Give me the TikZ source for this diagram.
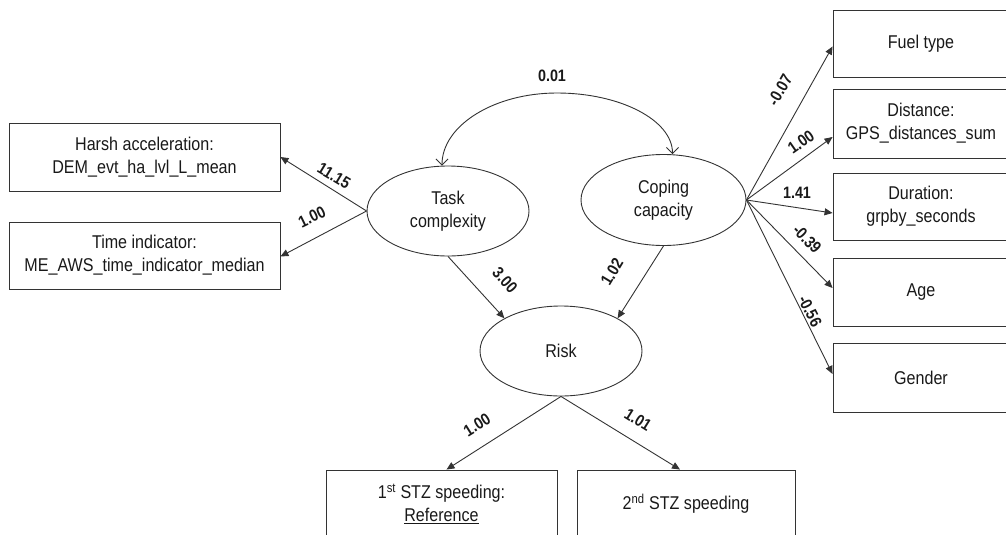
\documentclass[tikz,border=0pt]{standalone}
\usepackage{fontspec}
\setmainfont{Liberation Sans}[FakeStretch=0.87]
\usetikzlibrary{shapes.geometric,arrows.meta}

\begin{document}
\begin{tikzpicture}[x=1pt,y=-1pt,
  ln/.style={draw=black!80, line width=0.9pt},
  boxtxt/.style={font=\fontsize{18.5}{23}\selectfont, text=black!90, align=center},
  obs/.style={ln, boxtxt, rectangle, inner sep=0pt},
  lat/.style={ln, boxtxt, ellipse, inner sep=0pt, minimum width=162pt, minimum height=90pt},
  reg/.style={ln, -{Triangle[length=8pt,width=7pt]}},
  cov/.style={ln, {Straight Barb[length=6pt,width=12pt]}-{Straight Barb[length=6pt,width=12pt]}},
  coef/.style={font=\bfseries\fontsize{16.5}{18}\selectfont, text=black!90, inner sep=1pt}
]
\useasboundingbox (0,0) rectangle (1006,535);

% latent variables
\node[lat] (task)   at (448,211)   {Task\\complexity};
\node[lat, minimum width=165pt, minimum height=91pt] (coping) at (663.5,200) {Coping\\capacity};
\node[lat] (risk)   at (561,351)   {Risk};

% indicators of task complexity
\node[obs, minimum width=271pt, minimum height=68pt] (harsh) at (144.5,157)   {Harsh acceleration:\\DEM\_evt\_ha\_lvl\_L\_mean};
\node[obs, minimum width=271pt, minimum height=67pt] (timeind) at (144.5,255.5) {Time indicator:\\ME\_AWS\_time\_indicator\_median};

% indicators of coping capacity
\node[obs, minimum width=176pt, minimum height=67pt] (fuel)   at (921,43.5)  {Fuel type};
\node[obs, minimum width=176pt, minimum height=69pt] (dist)   at (921,123.5) {Distance:\\GPS\_distances\_sum};
\node[obs, minimum width=176pt, minimum height=67pt] (dur)    at (921,206.5) {Duration:\\grpby\_seconds};
\node[obs, minimum width=176pt, minimum height=68pt] (age)    at (921,292)   {Age};
\node[obs, minimum width=176pt, minimum height=69pt] (gender) at (921,377.5) {Gender};

% indicators of risk
\node[obs, minimum width=231pt, minimum height=68pt] (stz1) at (441.5,504) {1\textsuperscript{st} STZ speeding:\\\underline{Reference}};
\node[obs, minimum width=218pt, minimum height=68pt] (stz2) at (686,504)   {2\textsuperscript{nd} STZ speeding};

% loadings and paths
\draw[reg] (task.west) -- (harsh.east);
\draw[reg] (task.west) -- ([yshift=-1pt]timeind.east);
\draw[reg] (coping.east) -- ([yshift=-3pt]fuel.west);
\draw[reg] (coping.east) -- ([yshift=-13.5pt]dist.west);
\draw[reg] (coping.east) -- ([yshift=-6.5pt]dur.west);
\draw[reg] (coping.east) -- ([yshift=4pt]age.west);
\draw[reg] (coping.east) -- ([yshift=3.5pt]gender.west);
\draw[reg] (task.south) -- (risk.150);
\draw[reg] (coping.south) -- (risk.30);
\draw[reg] (risk.south) -- ([xshift=5pt]stz1.north);
\draw[reg] (risk.south) -- ([xshift=-6pt]stz2.north);

% covariance between the two latent factors
\coordinate (covtop) at (557,93);
\draw[cov] ([xshift=-6pt]task.north) .. controls +(0,-40) and +(-63,0) .. (covtop)
           .. controls +(63,0) and +(0,-34) .. ([xshift=9pt]coping.north);

% coefficients
\node[coef] (kcov) at (552,76) {0.01};
\node[coef, rotate=-31] (kharsh) at (334,176) {11.15};
\node[coef, rotate=26]  (ktime)  at (312,217) {1.00};
\node[coef, rotate=60]  (kfuel)  at (780,90)  {-0.07};
\node[coef, rotate=35]  (kdist)  at (801,142) {1.00};
\node[coef]             (kdur)   at (797,193) {1.41};
\node[coef, rotate=-46] (kage)   at (807,239) {-0.39};
\node[coef, rotate=-63] (kgen)   at (810,311) {-0.56};
\node[coef, rotate=-48] (ktr)    at (505,280) {3.00};
\node[coef, rotate=59]  (kcr)    at (612,272) {1.02};
\node[coef, rotate=32]  (ks1)    at (477,425) {1.00};
\node[coef, rotate=-32] (ks2)    at (638,420) {1.01};
\end{tikzpicture}
\end{document}
